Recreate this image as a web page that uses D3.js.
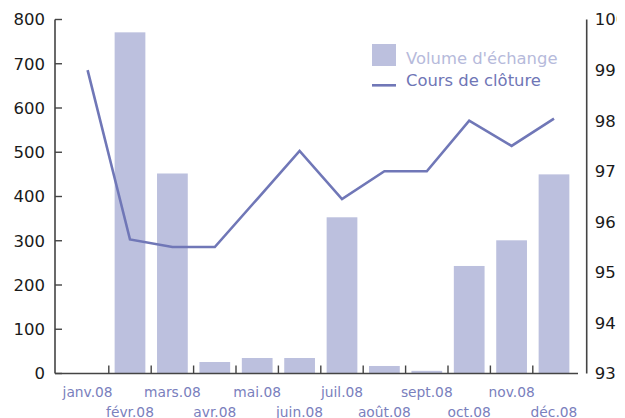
<!DOCTYPE html>
<html>
<head>
<meta charset="utf-8">
<script src="https://cdn.jsdelivr.net/npm/d3@7"></script>
<style>
  body { margin: 0; background: #fff; }
  svg { display: block; font-family: "DejaVu Sans", sans-serif; }
</style>
</head>
<body>
<svg id="chart" width="617" height="418"></svg>
<script>
// data
let months = ["janv.08", "févr.08", "mars.08", "avr.08", "mai.08", "juin.08",
              "juil.08", "août.08", "sept.08", "oct.08", "nov.08", "déc.08"];
let volume = [0, 771, 452, 26, 35, 35, 353, 17, 6, 243, 301, 450];
let cours = [99.0, 95.65, 95.5, 95.5, 96.45, 97.4, 96.45, 97.0, 97.0, 98.0, 97.5, 98.04];
let volTicks = [0, 100, 200, 300, 400, 500, 600, 700, 800];
let coursTicks = [93, 94, 95, 96, 97, 98, 99, 100];
let legendLabels = ["Volume d'échange", "Cours de clôture"];

let svg = d3.select('#chart');
let barColor = "#bcc0de",
    lineColor = "#7077b7",
    axisColor = "#444";

let x = d3.scaleBand()
    .domain(months)
    .range([66.4, 575.2])
    .paddingInner(0.275)
    .paddingOuter(0.1375);
let step = x.step();
let bandStart = (m) => x(m) - step * 0.1375;

let yL = d3.scaleLinear().domain([0, 800]).range([373.5, 19.5]);
let yR = d3.scaleLinear().domain([93, 100]).range([373.5, 19.5]);

// bars
svg.append('g')
    .selectAll('rect')
    .data(volume)
    .enter()
    .append('rect')
    .attr('x', (d, i) => x(months[i]))
    .attr('width', x.bandwidth())
    .attr('y', (d) => yL(d))
    .attr('height', (d) => yL(0) - yL(d))
    .style('fill', barColor);

// line
let line = d3.line()
    .x((d, i) => x(months[i]) + x.bandwidth() / 2)
    .y((d) => yR(d));
svg.append('path')
    .datum(cours)
    .attr('d', line)
    .style('fill', 'none')
    .style('stroke', lineColor)
    .style('stroke-width', 2.6)
    .style('stroke-linejoin', 'miter');

// left axis
let left = svg.append('g').attr('transform', 'translate(55,0)');
left.append('line')
    .attr('y1', yL(800)).attr('y2', yL(0))
    .style('stroke', axisColor).style('stroke-width', 1.6);
left.selectAll('.tk')
    .data(volTicks)
    .enter()
    .append('line')
    .attr('x1', 0).attr('x2', 7)
    .attr('y1', (d) => yL(d)).attr('y2', (d) => yL(d))
    .style('stroke', axisColor).style('stroke-width', 1.4);
left.selectAll('text')
    .data(volTicks)
    .enter()
    .append('text')
    .attr('x', -10)
    .attr('y', (d) => yL(d))
    .attr('dy', '0.36em')
    .attr('text-anchor', 'end')
    .style('font-size', '16.5px')
    .style('fill', '#1a1a1a')
    .text((d) => d);

// right axis
let right = svg.append('g').attr('transform', 'translate(586.7,0)');
right.append('line')
    .attr('y1', yR(100)).attr('y2', yR(93))
    .style('stroke', axisColor).style('stroke-width', 1.6);
right.selectAll('text')
    .data(coursTicks)
    .enter()
    .append('text')
    .attr('x', 8)
    .attr('y', (d) => yR(d))
    .attr('dy', '0.36em')
    .style('font-size', '16.5px')
    .style('fill', '#1a1a1a')
    .text((d) => d);

// bottom axis
let bottom = svg.append('g');
bottom.append('line')
    .attr('x1', 55).attr('x2', 578)
    .attr('y1', yL(0)).attr('y2', yL(0))
    .style('stroke', axisColor).style('stroke-width', 1.6);
bottom.selectAll('.tk')
    .data(months.slice(1))
    .enter()
    .append('line')
    .attr('x1', (d) => bandStart(d)).attr('x2', (d) => bandStart(d))
    .attr('y1', yL(0)).attr('y2', yL(0) - 8)
    .style('stroke', axisColor).style('stroke-width', 1.4);
bottom.selectAll('text')
    .data(months)
    .enter()
    .append('text')
    .attr('x', (d) => x(d) + x.bandwidth() / 2)
    .attr('y', (d, i) => i % 2 === 0 ? 396.5 : 416.5)
    .attr('text-anchor', 'middle')
    .style('font-size', '13.8px')
    .style('fill', '#7a80bd')
    .text((d) => d);

// legend
let legend = svg.append('g').attr('transform', 'translate(372,0)');
legend.append('rect')
    .attr('x', 0).attr('y', 44)
    .attr('width', 24).attr('height', 22)
    .style('fill', barColor);
legend.append('line')
    .attr('x1', 0).attr('x2', 24)
    .attr('y1', 85.3).attr('y2', 85.3)
    .style('stroke', lineColor).style('stroke-width', 2.6);
legend.selectAll('text')
    .data(legendLabels)
    .enter()
    .append('text')
    .attr('x', 34)
    .attr('y', (d, i) => i === 0 ? 64 : 85.5)
    .style('font-size', '16.4px')
    .style('fill', (d, i) => i === 0 ? '#b6badb' : '#6f76b6')
    .text((d) => d);
</script>
</body>
</html>
